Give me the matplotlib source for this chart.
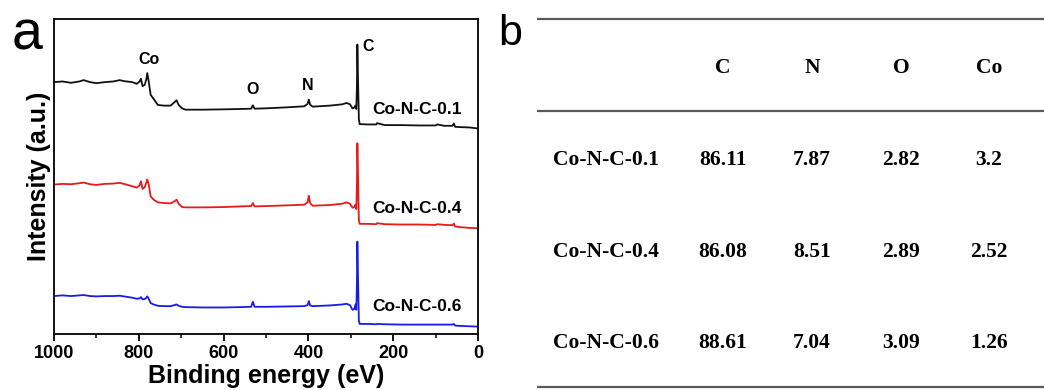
import matplotlib
matplotlib.use("Agg")
import matplotlib.pyplot as plt
from matplotlib.ticker import MultipleLocator

# ---------------- data ----------------
energy = [1000, 980, 960, 940, 930, 915, 900, 880, 860, 845, 835, 815, 805, 798, 795,
          791, 786, 782, 780, 777, 772, 765, 755, 740, 725, 716, 711, 706, 698, 690,
          650, 600, 560, 535, 531, 527, 500, 450, 410, 402, 399, 396, 390, 350, 320,
          310, 302, 296, 292, 289, 287, 285.5, 284.5, 283, 281, 279, 260, 240, 238,
          220, 180, 140, 100, 96, 80, 60, 57, 54, 40, 20, 0]

int_01 = [750, 752, 748, 752, 756, 750, 747, 750, 752, 756, 753, 750, 745, 752, 760,
          738, 742, 760, 777, 755, 712, 700, 682, 680, 680, 690, 696, 682, 672, 668,
          668, 669, 670, 671, 681, 671, 672, 675, 678, 685, 698, 683, 677, 680, 684,
          688, 684, 672, 674, 680, 670, 740, 862, 760, 640, 625, 624, 624, 628,
          622, 622, 621, 621, 624, 620, 620, 627, 617, 616, 615, 612]

int_04 = [445, 447, 446, 449, 451, 446, 444, 447, 448, 450, 447, 440, 436, 443, 455,
          432, 437, 452, 460, 448, 410, 400, 392, 390, 389, 395, 400, 388, 378, 377,
          377, 378, 380, 381, 390, 380, 381, 383, 385, 392, 412, 390, 382, 384, 388,
          392, 388, 376, 378, 385, 372, 450, 568, 470, 340, 328, 328, 327, 330,
          327, 326, 326, 325, 327, 325, 324, 329, 320, 318, 316, 315]

int_06 = [113, 115, 113, 115, 116, 113, 112, 113, 113, 114, 112, 108, 105, 106, 110,
          103, 104, 108, 112, 106, 92, 88, 84, 83, 83, 86, 88, 84, 81, 80,
          79, 79, 80, 81, 96, 81, 81, 82, 83, 86, 98, 85, 83, 85, 88,
          90, 86, 72, 74, 88, 72, 150, 275, 170, 40, 30, 30, 29, 30,
          29, 28, 28, 28, 28, 28, 28, 30, 25, 24, 23, 22]

series_names = ["Co-N-C-0.1", "Co-N-C-0.4", "Co-N-C-0.6"]
series_colors = ["#111111", "#e81a1a", "#1a1ae6"]

peak_labels = ["Co", "O", "N", "C"]
peak_label_x = [776, 531, 401, 259]
peak_label_y = [818, 727, 740, 855]

name_label_x = [145, 145, 145]
name_label_y = [670, 375, 83]

table_cols = ["C", "N", "O", "Co"]
table_rows = ["Co-N-C-0.1", "Co-N-C-0.4", "Co-N-C-0.6"]
table_vals = [["86.11", "7.87", "2.82", "3.2"],
              ["86.08", "8.51", "2.89", "2.52"],
              ["88.61", "7.04", "3.09", "1.26"]]

# ---------------- figure ----------------
W, H = 1044, 390
fig = plt.figure(figsize=(W / 100, H / 100), dpi=100)
sans = "Liberation Sans"
serif = "Liberation Serif"

ax = fig.add_axes([54 / W, 1 - 334 / H, (478 - 54) / W, (334 - 19) / H])
for y, c in zip([int_01, int_04, int_06], series_colors):
    ax.plot(energy, y, color=c, lw=1.3)
ax.set_xlim(1000, 0)
ax.set_ylim(0, 938)
ax.set_yticks([])
ax.xaxis.set_major_locator(MultipleLocator(200))
ax.xaxis.set_minor_locator(MultipleLocator(100))
ax.tick_params(axis="x", which="major", direction="out", length=5, width=1.3,
               labelsize=13, pad=3)
ax.tick_params(axis="x", which="minor", direction="out", length=3, width=1.1)
for lab in ax.get_xticklabels():
    lab.set_fontfamily(sans)
    lab.set_fontweight("bold")
for s in ax.spines.values():
    s.set_linewidth(1.3)
ax.set_xlabel("Binding energy (eV)", fontsize=18, fontweight="bold", family=sans,
              labelpad=1)
ax.set_ylabel("Intensity (a.u.)", fontsize=18, fontweight="bold", family=sans,
              labelpad=2)

for t, x, y in zip(peak_labels, peak_label_x, peak_label_y):
    ax.text(x, y, t, ha="center", va="center", fontsize=11.5, fontweight="bold",
            family=sans)
for t, x, y in zip(series_names, name_label_x, name_label_y):
    ax.text(x, y, t, ha="center", va="center", fontsize=12.5, fontweight="bold",
            family=sans)

fig.text(12 / W, 1 - 36 / H, "a", fontsize=40, family=sans, ha="left", va="center")
fig.text(498 / W, 1 - 34 / H, "b", fontsize=31, family=sans, ha="left", va="center")

# ---------------- table ----------------
tx = fig.add_axes([537 / W, 0, 1 - 537 / W, 1])
tx.set_xlim(537, W)
tx.set_ylim(H, 0)
tx.axis("off")
line_kw = dict(color="#5a5a5a", lw=1.6)
for yl in [19, 111, 387]:
    tx.axhline(yl, **line_kw)

col_x = [723, 812, 901, 989]
row_y = [160, 252, 343]
header_y = 68
tfs = 15.5
for cx, t in zip(col_x, table_cols):
    tx.text(cx, header_y, t, ha="center", va="center", fontsize=tfs,
            fontweight="bold", family=serif)
for ry, rname, vals in zip(row_y, table_rows, table_vals):
    tx.text(553, ry, rname, ha="left", va="center", fontsize=tfs,
            fontweight="bold", family=serif)
    for cx, v in zip(col_x, vals):
        tx.text(cx, ry, v, ha="center", va="center", fontsize=tfs,
                fontweight="bold", family=serif)

fig.savefig("out.png", dpi=100)
